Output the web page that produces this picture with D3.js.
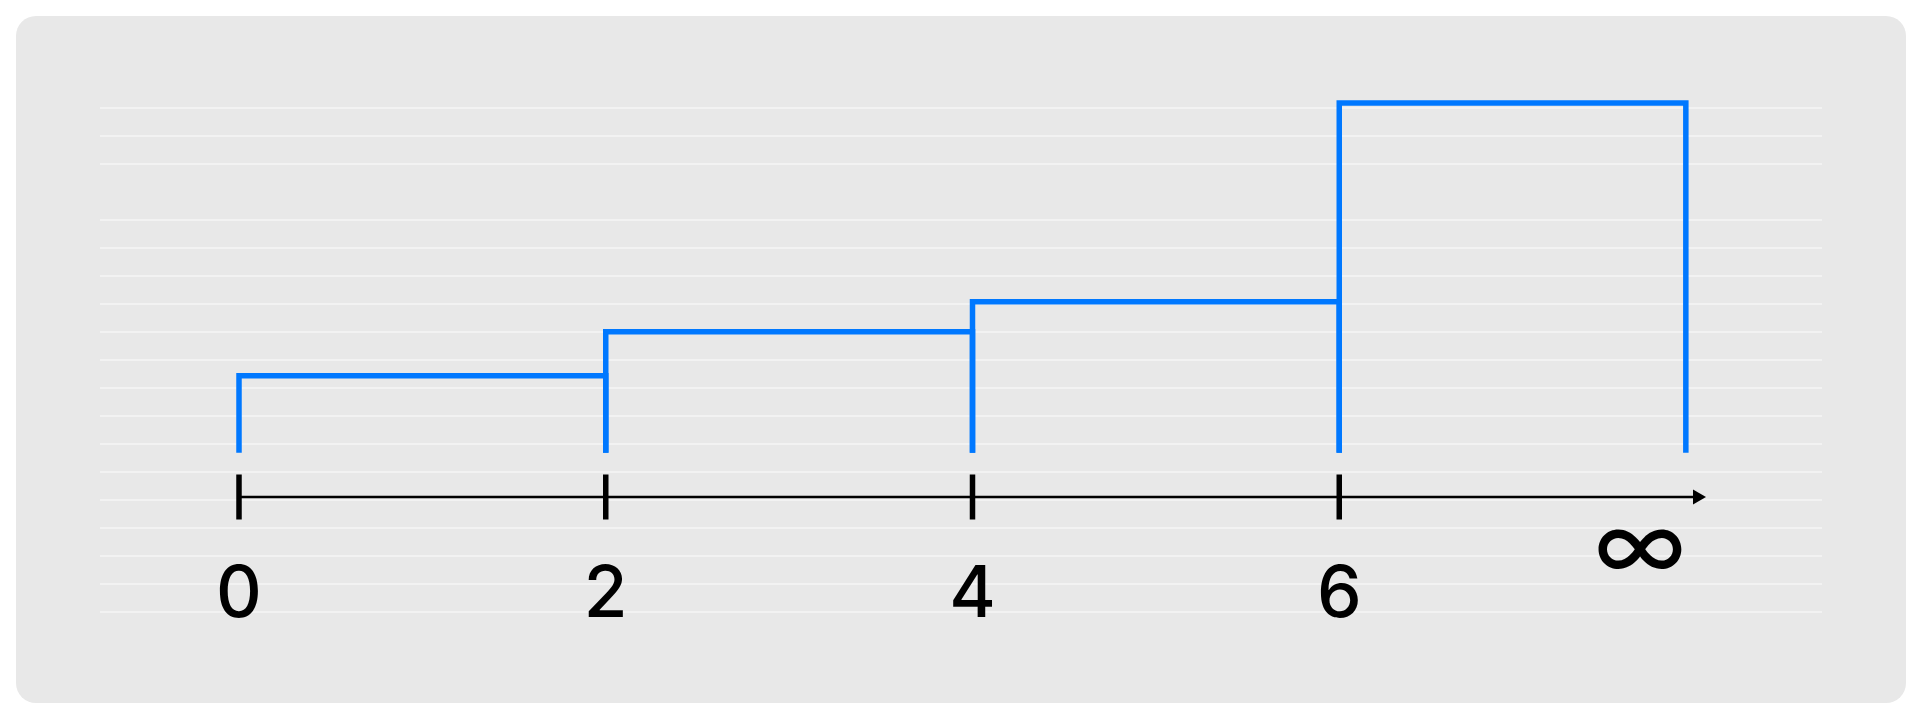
<!DOCTYPE html>
<html>
<head>
<meta charset="utf-8">
<script src="https://cdn.jsdelivr.net/npm/d3@7.9.0/dist/d3.min.js"></script>
<style>
  html, body { margin: 0; padding: 0; background: #fff; }
  svg { display: block; }
  text { font-family: Inter, "Liberation Sans", Arial, sans-serif; fill: #000; }
</style>
</head>
<body>
<svg id="chart" width="1920" height="720"></svg>
<script>
// bin edges along the axis, the last bin is open ended (to infinity)
const binStarts = [0, 2, 4, 6];
const binEnds = [2, 4, 6, 7.89];      // 7.89 = where the open bin is cut off
const binHeights = [22, 34.6, 43.2, 100];
const tickValues = [0, 2, 4, 6];
const tickLabels = ['0', '2', '4', '6'];
const openLabel = '\u221E';
const openLabelAt = 7.64;

// notebook style ruled lines in the background (line 3 is left out)
const ruleIndex = d3.range(19).filter(i => i !== 3);

const svg = d3.select('#chart');

const x = d3.scaleLinear().domain([0, 8]).range([239, 1706]);
const y = d3.scaleLinear().domain([0, 100]).range([452.7, 103]);
const ruleY = d3.scaleLinear().domain([0, 18]).range([108, 612]);

// panel
svg.append('rect')
  .attr('x', 16).attr('y', 16)
  .attr('width', 1890).attr('height', 687)
  .attr('rx', 20)
  .attr('fill', '#e8e8e8');

svg.append('g')
  .selectAll('line')
  .data(ruleIndex)
  .join('line')
  .attr('x1', 100).attr('x2', 1822)
  .attr('y1', d => ruleY(d)).attr('y2', d => ruleY(d))
  .attr('stroke', '#f2f2f2')
  .attr('stroke-width', 2);

// axis line + arrow
const axisY = 497;
svg.append('line')
  .attr('x1', x(0)).attr('x2', x(8) - 12)
  .attr('y1', axisY).attr('y2', axisY)
  .attr('stroke', '#000')
  .attr('stroke-width', 2.5);

svg.append('path')
  .attr('d', `M${x(8) - 13},${axisY - 7.5} L${x(8)},${axisY} L${x(8) - 13},${axisY + 7.5} Z`)
  .attr('fill', '#000');

// ticks
svg.append('g')
  .selectAll('line')
  .data(tickValues)
  .join('line')
  .attr('x1', d => x(d)).attr('x2', d => x(d))
  .attr('y1', axisY - 22.5).attr('y2', axisY + 22.5)
  .attr('stroke', '#000')
  .attr('stroke-width', 5.5);

// tick labels
svg.append('g')
  .selectAll('text')
  .data(tickValues)
  .join('text')
  .attr('x', d => x(d))
  .attr('y', 617)
  .attr('text-anchor', 'middle')
  .attr('font-size', 71)
  .attr('font-weight', 500)
  .text((d, i) => tickLabels[i]);

// infinity label, sized to about 90px wide
const inf = svg.append('text')
  .attr('x', x(openLabelAt))
  .attr('text-anchor', 'middle')
  .attr('font-size', 100)
  .attr('font-weight', 400)
  .text(openLabel);
const infSize = 100 * 93 / inf.node().getBBox().width;
inf.attr('font-size', infSize).attr('y', 549 + 0.31 * infSize);

// bins, each drawn as an open box (no bottom edge)
svg.append('g')
  .selectAll('path')
  .data(binStarts)
  .join('path')
  .attr('d', (d, i) => `M${x(d)},${y(0)} V${y(binHeights[i])} H${x(binEnds[i])} V${y(0)}`)
  .attr('fill', 'none')
  .attr('stroke', '#0078ff')
  .attr('stroke-width', 5.5)
  .attr('stroke-linejoin', 'miter');
</script>
</body>
</html>
